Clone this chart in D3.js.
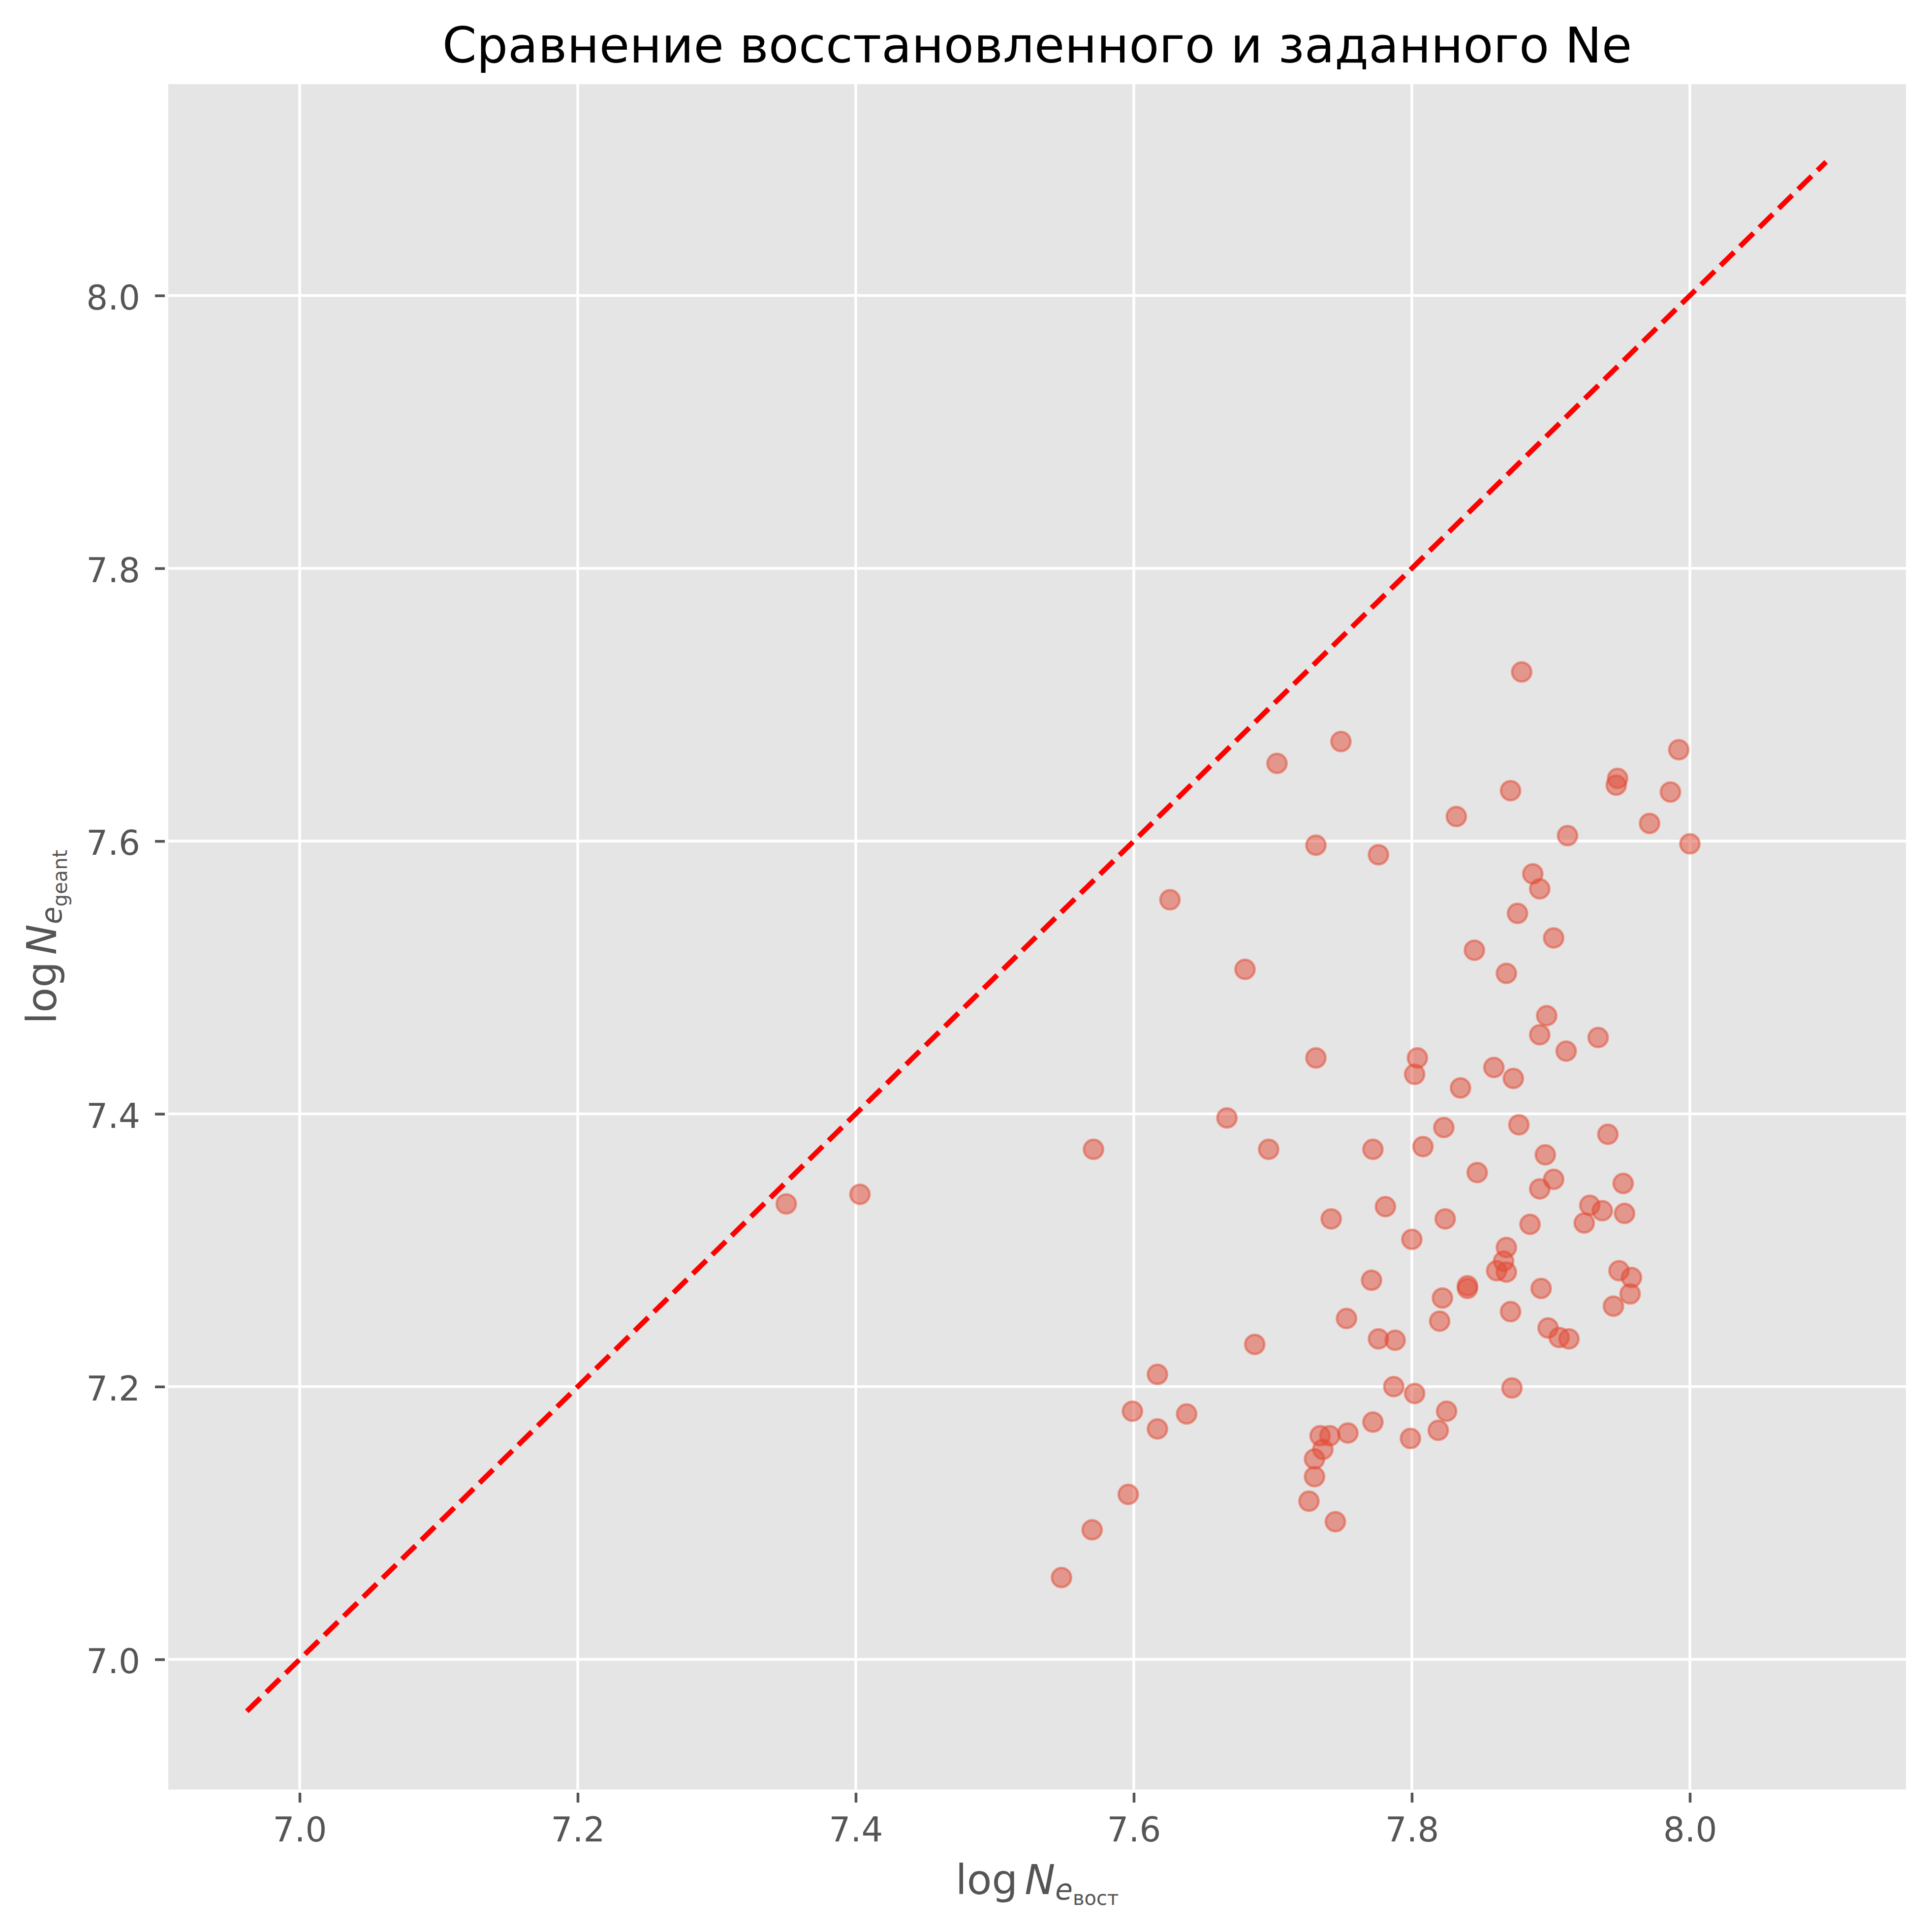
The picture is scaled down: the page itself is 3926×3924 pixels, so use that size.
<!DOCTYPE html>
<html lang="ru">
<head>
<meta charset="utf-8">
<title>Сравнение восстановленного и заданного Ne</title>
<script src="https://cdn.jsdelivr.net/npm/d3@7"></script>
<style>
    body { margin: 0; background: #ffffff; }
    #vis-container { width: 3926px; height: 3924px; }
    text { font-family: "DejaVu Sans", sans-serif; }
</style>
</head>
<body>
<div id="vis-container"></div>
<script>
"use strict";

// Reconstructed log Ne (x) and GEANT log Ne (y)
const logNeVost = [
    7.350, 7.403, 7.571, 7.548, 7.570, 7.596, 7.599, 7.617, 7.617, 7.638,
    7.626, 7.667, 7.680, 7.687, 7.697, 7.703, 7.731, 7.731, 7.749, 7.742,
    7.753, 7.776, 7.772, 7.781, 7.771, 7.776, 7.788, 7.787, 7.802, 7.772,
    7.799, 7.754, 7.741, 7.734, 7.736, 7.730, 7.730, 7.726, 7.745, 7.802,
    7.804, 7.808, 7.800, 7.823, 7.824, 7.822, 7.820, 7.825, 7.819, 7.832,
    7.835, 7.845, 7.847, 7.840, 7.840, 7.859, 7.873, 7.871, 7.879, 7.876,
    7.868, 7.877, 7.868, 7.866, 7.861, 7.868, 7.871, 7.872, 7.887, 7.892,
    7.902, 7.897, 7.892, 7.911, 7.912, 7.896, 7.902, 7.892, 7.885, 7.893,
    7.898, 7.906, 7.913, 7.934, 7.941, 7.928, 7.924, 7.937, 7.952, 7.953,
    7.949, 7.958, 7.957, 7.945, 7.948, 7.947, 7.971, 7.986, 7.992, 8.000
];

const logNeGeant = [
    7.334, 7.341, 7.374, 7.060, 7.095, 7.121, 7.182, 7.209, 7.169, 7.180,
    7.557, 7.397, 7.506, 7.231, 7.374, 7.657, 7.597, 7.441, 7.673, 7.323,
    7.250, 7.590, 7.374, 7.332, 7.278, 7.235, 7.234, 7.200, 7.195, 7.174,
    7.162, 7.166, 7.164, 7.164, 7.154, 7.147, 7.134, 7.116, 7.101, 7.429,
    7.441, 7.376, 7.308, 7.390, 7.323, 7.265, 7.248, 7.182, 7.168, 7.618,
    7.419, 7.520, 7.357, 7.274, 7.272, 7.434, 7.426, 7.637, 7.724, 7.547,
    7.503, 7.392, 7.302, 7.292, 7.285, 7.284, 7.255, 7.199, 7.576, 7.565,
    7.529, 7.472, 7.458, 7.446, 7.604, 7.370, 7.352, 7.345, 7.319, 7.272,
    7.243, 7.236, 7.235, 7.456, 7.385, 7.333, 7.320, 7.329, 7.349, 7.327,
    7.285, 7.280, 7.268, 7.259, 7.646, 7.641, 7.613, 7.636, 7.667, 7.598
];

// Ends of the y = x reference line
const lineRange = [6.962, 8.098];

// Tick values
const xTicks = [7.0, 7.2, 7.4, 7.6, 7.8, 8.0];
const yTicks = [7.0, 7.2, 7.4, 7.6, 7.8, 8.0];

const titleText = "Сравнение восстановленного и заданного Ne";

function mainIndex()
{
    const width = 3926;
    const height = 3924;

    // Plot area inside the figure
    const margin = {
        top: 171,
        right: 53,
        bottom: 287.5,
        left: 342
    };

    const dims = {
        width: width - margin.left - margin.right,
        height: height - margin.top - margin.bottom
    };

    const points = logNeVost.map((d, i) => ({ x: d, y: logNeGeant[i] }));

    // Scales
    const x = d3.scaleLinear().domain([6.9055, 8.1554]).range([0, dims.width]);
    const y = d3.scaleLinear().domain([6.9046, 8.1550]).range([dims.height, 0]);

    const tickFormat = d3.format(".1f");
    const textColor = "#555555";

    const svg = d3.select("#vis-container")
        .append("svg")
        .attr("width", width)
        .attr("height", height)
        .style("background", "#ffffff");

    const plot = svg
        .append("g")
        .attr("transform", `translate(${margin.left},${margin.top})`);

    // Grey panel
    plot
        .append("rect")
        .attr("width", dims.width)
        .attr("height", dims.height)
        .attr("fill", "#E5E5E5");

    // Grid lines
    plot
        .append("g")
        .attr("class", "grid")
        .selectAll("line.vx")
        .data(xTicks)
        .enter()
        .append("line")
        .attr("x1", d => x(d))
        .attr("x2", d => x(d))
        .attr("y1", 0)
        .attr("y2", dims.height)
        .attr("stroke", "#ffffff")
        .attr("stroke-width", 5.5);

    plot
        .append("g")
        .attr("class", "grid")
        .selectAll("line.hy")
        .data(yTicks)
        .enter()
        .append("line")
        .attr("x1", 0)
        .attr("x2", dims.width)
        .attr("y1", d => y(d))
        .attr("y2", d => y(d))
        .attr("stroke", "#ffffff")
        .attr("stroke-width", 5.5);

    // Scatter points
    plot
        .append("g")
        .selectAll("circle")
        .data(points)
        .enter()
        .append("circle")
        .attr("cx", d => x(d.x))
        .attr("cy", d => y(d.y))
        .attr("r", 19.5)
        .attr("fill", "#E24A33")
        .attr("fill-opacity", 0.5)
        .attr("stroke", "#E24A33")
        .attr("stroke-opacity", 0.5)
        .attr("stroke-width", 5);

    // Dashed y = x line
    plot
        .append("line")
        .attr("x1", x(lineRange[0]))
        .attr("y1", y(lineRange[0]))
        .attr("x2", x(lineRange[1]))
        .attr("y2", y(lineRange[1]))
        .attr("stroke", "#ff0000")
        .attr("stroke-width", 10.4)
        .attr("stroke-dasharray", "38.5,16.7");

    // x-axis
    const xAxis = d3.axisBottom(x)
        .tickValues(xTicks)
        .tickFormat(tickFormat)
        .tickSizeInner(20)
        .tickSizeOuter(0)
        .tickPadding(30);

    const gx = plot
        .append("g")
        .attr("transform", `translate(0, ${dims.height + 6.5})`)
        .call(xAxis);

    gx.select(".domain").remove();
    gx.selectAll(".tick line").attr("stroke", textColor).attr("stroke-width", 5.5);
    gx.selectAll(".tick text")
        .attr("fill", textColor)
        .style("font-size", "69px");

    // y-axis
    const yAxis = d3.axisLeft(y)
        .tickValues(yTicks)
        .tickFormat(tickFormat)
        .tickSizeInner(20)
        .tickSizeOuter(0)
        .tickPadding(30);

    const gy = plot
        .append("g")
        .attr("transform", "translate(-7, 0)")
        .call(yAxis);

    gy.select(".domain").remove();
    gy.selectAll(".tick line").attr("stroke", textColor).attr("stroke-width", 5.5);
    gy.selectAll(".tick text")
        .attr("fill", textColor)
        .attr("dy", "0.4em")
        .style("font-size", "69px");

    // Title
    svg
        .append("text")
        .attr("x", margin.left + dims.width / 2)
        .attr("y", 127)
        .attr("text-anchor", "middle")
        .attr("fill", "#000000")
        .style("font-size", "100px")
        .text(titleText);

    // Axis label built from pieces: log N_e with a second-level subscript
    function mathLabel(sel, subText)
    {
        sel.append("tspan").text("log");
        sel.append("tspan").attr("dx", 14).style("font-style", "italic").text("N");
        sel.append("tspan")
            .attr("dy", 11)
            .style("font-style", "italic")
            .style("font-size", "58px")
            .text("e");
        sel.append("tspan")
            .attr("dy", 11)
            .style("font-size", "40px")
            .text(subText);
    }

    const xLabel = svg
        .append("text")
        .attr("x", margin.left + dims.width / 2)
        .attr("y", 3849)
        .attr("text-anchor", "middle")
        .attr("fill", textColor)
        .style("font-size", "83px");
    mathLabel(xLabel, "вост");

    const yLabel = svg
        .append("text")
        .attr("transform", `translate(114, ${margin.top + dims.height / 2}) rotate(-90)`)
        .attr("text-anchor", "middle")
        .attr("fill", textColor)
        .style("font-size", "83px");
    mathLabel(yLabel, "geant");
}

document.addEventListener("DOMContentLoaded", mainIndex);
</script>
</body>
</html>
